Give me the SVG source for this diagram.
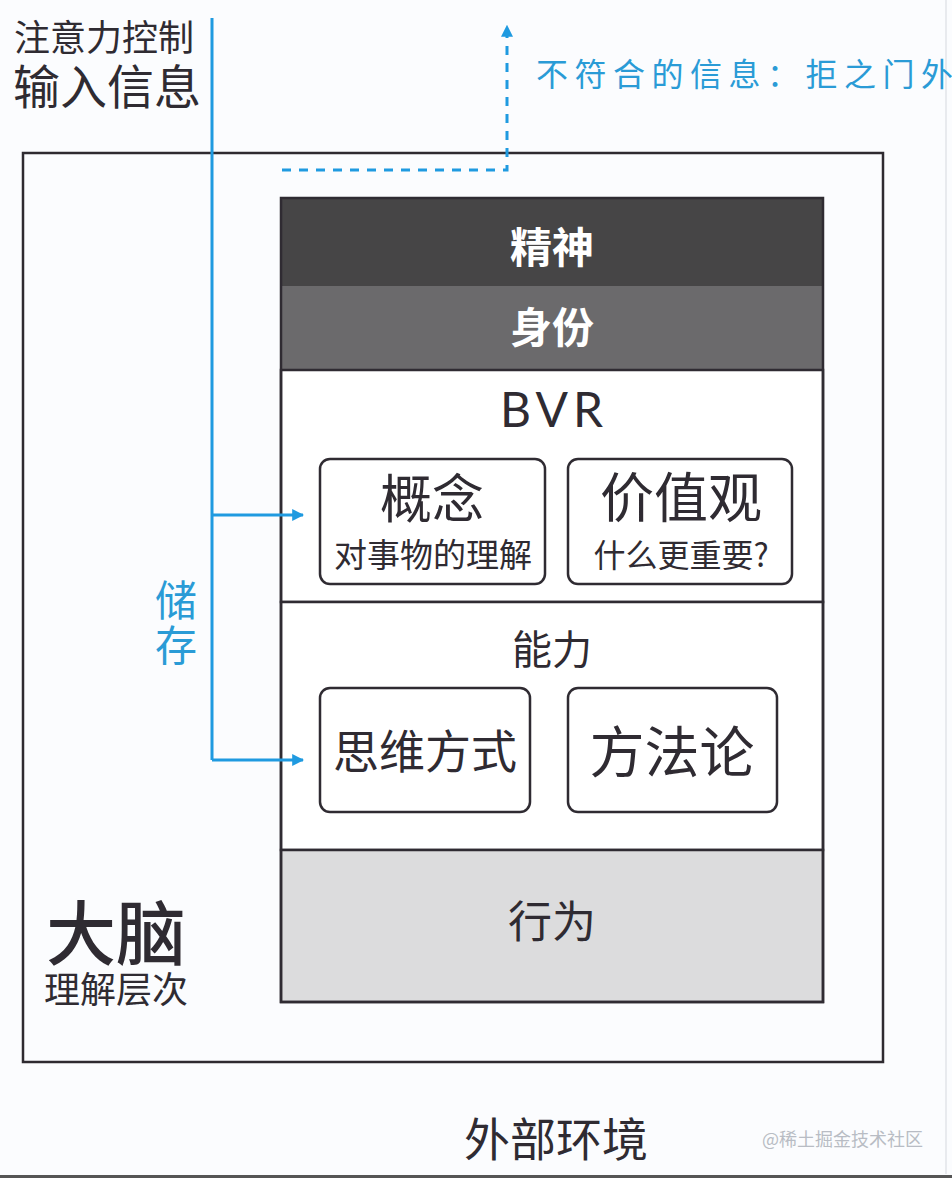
<svg xmlns="http://www.w3.org/2000/svg" width="952" height="1178" viewBox="0 0 952 1178">
<defs>
<style>
.t{font-family:"Noto Sans CJK SC","Noto Sans",sans-serif;fill:#2f2b32;}
.w{font-family:"Noto Sans CJK SC",sans-serif;fill:#ffffff;font-weight:bold;}
.b{font-family:"Noto Sans CJK SC",sans-serif;fill:#2a9bd6;}
.box{fill:#ffffff;stroke:#2f2b32;stroke-width:2.5;}
.blue{stroke:#1f9ae0;stroke-width:3;fill:none;}
</style>
<marker id="ah" viewBox="0 0 10 10" refX="9" refY="5" markerWidth="4" markerHeight="4" orient="auto" markerUnits="strokeWidth">
<path d="M0,0 L10,5 L0,10 Z" fill="#1f9ae0"/>
</marker>
</defs>
<rect x="0" y="0" width="952" height="1178" fill="#fbfcfe"/>
<line x1="946" y1="0" x2="946" y2="1174" stroke="#e2e4e8" stroke-width="1.5"/>
<line x1="0" y1="1176.5" x2="952" y2="1176.5" stroke="#555" stroke-width="3"/>

<g id="brain">
<rect x="23" y="153" width="860" height="909" fill="#fbfcfe" stroke="#2e2a30" stroke-width="2.5"/>
<text class="t" x="46" y="960" font-size="70" font-weight="500">大脑</text>
<text class="t" x="44" y="1003" font-size="36">理解层次</text>
</g>

<g id="spirit">
<rect x="281" y="198" width="542" height="88" fill="#464546"/>
<text class="w" x="552" y="263" font-size="42" text-anchor="middle">精神</text>
</g>
<g id="identity">
<rect x="281" y="286" width="542" height="84" fill="#6b6a6c"/>
<text class="w" x="552" y="343" font-size="42" text-anchor="middle">身份</text>
</g>
<g id="bvr">
<rect x="281" y="370" width="542" height="232" fill="#ffffff" stroke="#2f2b32" stroke-width="2.5"/>
<text x="554" y="427" font-size="48" letter-spacing="5" text-anchor="middle" font-family="Lato,'Noto Sans',sans-serif" fill="#2f2b32">BVR</text>
</g>
<g id="concept">
<rect class="box" x="320" y="459" width="225" height="125" rx="10"/>
<text class="t" x="432" y="518" font-size="52" text-anchor="middle">概念</text>
<text class="t" x="433" y="567" font-size="33" text-anchor="middle">对事物的理解</text>
</g>
<g id="values">
<rect class="box" x="568" y="459" width="224" height="125" rx="10"/>
<text class="t" x="681" y="518" font-size="54" text-anchor="middle">价值观</text>
<text class="t" x="681" y="567" font-size="32" text-anchor="middle">什么更重要?</text>
</g>
<g id="ability">
<rect x="281" y="602" width="542" height="248" fill="#ffffff" stroke="#2f2b32" stroke-width="2.5"/>
<text class="t" x="552" y="664" font-size="40" text-anchor="middle">能力</text>
</g>
<g id="thinking">
<rect class="box" x="320" y="688" width="210" height="124" rx="10"/>
<text class="t" x="425" y="768" font-size="46" text-anchor="middle">思维方式</text>
</g>
<g id="method">
<rect class="box" x="568" y="688" width="209" height="124" rx="10"/>
<text class="t" x="672" y="772" font-size="55" text-anchor="middle">方法论</text>
</g>
<g id="behavior">
<rect x="281" y="850" width="542" height="152" fill="#dcdcdd" stroke="#2f2b32" stroke-width="2.5"/>
<text class="t" x="552" y="938" font-size="44" text-anchor="middle">行为</text>
</g>
<rect x="281" y="198" width="542" height="804" fill="none" stroke="#2f2b32" stroke-width="2.5"/>

<g id="input-label">
<text class="t" x="14" y="51" font-size="36">注意力控制</text>
<text class="t" x="13" y="104" font-size="47">输入信息</text>
</g>
<g id="reject-label">
<text class="b" x="536" y="86" font-size="32" letter-spacing="6.5">不符合的信息：拒之门外</text>
</g>
<g id="store-label">
<text class="b" x="176" y="616" font-size="42" text-anchor="middle">储</text>
<text class="b" x="176" y="661" font-size="42" text-anchor="middle">存</text>
</g>
<g id="env">
<text class="t" x="556" y="1156" font-size="46" text-anchor="middle">外部环境</text>
<text x="762" y="1146" font-size="18" font-family="'Noto Sans CJK SC',sans-serif" fill="#b8bcc4">@稀土掘金技术社区</text>
</g>

<g id="connectors">
<path class="blue" d="M212,18 L212,760"/>
<path class="blue" d="M212,515 L303,515" marker-end="url(#ah)"/>
<path class="blue" d="M212,760 L303,760" marker-end="url(#ah)"/>
<path class="blue" d="M282,170 L507,170 L507,26" stroke-dasharray="9,8" marker-end="url(#ah)"/>
</g>
</svg>
